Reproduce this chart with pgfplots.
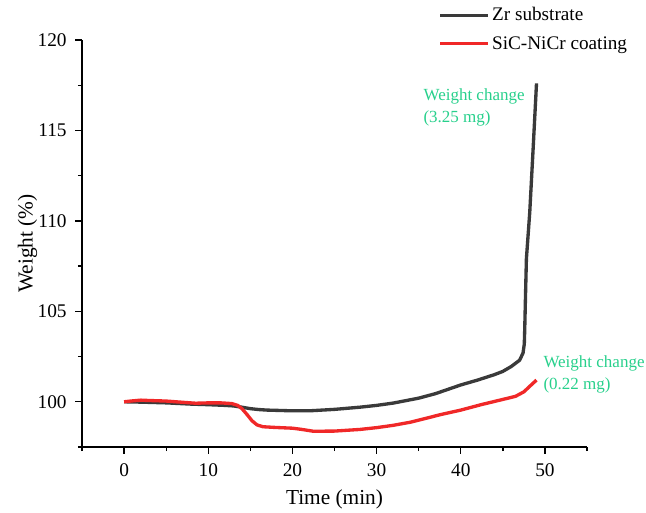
\documentclass[border=0pt]{standalone}
\usepackage{pgfplots}
\pgfplotsset{compat=1.18}
\usepackage{fontspec}
\setmainfont{Liberation Serif}
\definecolor{zrcol}{RGB}{58,58,58}
\definecolor{sicol}{RGB}{240,40,40}
\definecolor{anncol}{RGB}{40,208,140}
\begin{document}
\begin{tikzpicture}
\begin{axis}[
  scale only axis,
  width=378.75pt, height=305.25pt,
  xmin=-5, xmax=55, ymin=97.5, ymax=120,
  axis lines*=left,
  axis line style={line width=1pt,-},
  tick align=outside,
  major tick length=5pt, minor tick length=3pt,
  tick style={line width=1pt,black},
  xtick={0,10,20,30,40,50},
  minor xtick={-5,5,15,25,35,45,55},
  ytick={100,105,110,115,120},
  minor ytick={97.5,102.5,107.5,112.5,117.5},
  /pgf/number format/assume math mode=true,
  ticklabel style={font=\fontsize{14.5pt}{17pt}\selectfont},
  xticklabel style={yshift=-4pt},
  yticklabel style={xshift=-3pt},
  xlabel={Time (min)},
  ylabel={Weight (\%)},
  label style={font=\fontsize{16pt}{19pt}\selectfont},
  xlabel style={yshift=-2.5pt},
  ylabel style={yshift=-6.5pt},
  clip=false,
  legend cell align=left,
  legend image code/.code={\draw[#1] (0pt,0pt) -- (36pt,0pt);},
  legend style={draw=none, fill=none, at={(axis description cs:0.706,1.085)}, anchor=north west,
    font=\fontsize{14.4pt}{17pt}\selectfont, row sep=7pt, inner sep=0pt,
    nodes={inner sep=1.5pt}},
]
\addplot[color=zrcol, line width=2.5pt, line join=round] coordinates {
(0,100) (2,99.98) (5,99.94) (8,99.87) (10,99.84) (12,99.8) (13,99.77) (14,99.7)
(15,99.62) (16,99.57) (17,99.54) (20,99.5) (22,99.5) (25,99.58) (28,99.7) (30,99.8)
(32,99.93) (35,100.2) (37,100.45) (40,100.93) (42,101.2) (44,101.5) (45,101.68)
(46,101.95) (47,102.3) (47.4,102.7) (47.55,103.2) (47.6,104) (47.7,106) (47.8,107.9)
(48.2,110.5) (48.6,114) (49.0,117.6)
};
\addlegendentry{Zr substrate}
\addplot[color=sicol, line width=2.5pt, line join=round] coordinates {
(0,100) (1,100.05) (2,100.09) (3,100.07) (5,100.04) (7,99.97) (8.5,99.92) (10,99.94)
(11.5,99.94) (12.8,99.9) (13.5,99.8) (14,99.62) (14.6,99.3) (15.2,98.95) (15.8,98.72)
(16.5,98.62) (18,98.58) (20,98.54) (21,98.48) (22.5,98.37) (25,98.38) (28,98.47)
(30,98.57) (32,98.7) (34,98.87) (36,99.1) (37.5,99.28) (40,99.54) (42.5,99.85)
(45,100.13) (46.5,100.3) (47.5,100.55) (48.3,100.9) (49,101.2)
};
\addlegendentry{SiC-NiCr coating}
\node[anchor=west, align=left, inner sep=0pt, text=anncol,
  font=\fontsize{12.75pt}{16.5pt}\selectfont] at (axis cs:35.55,116.29) {Weight change\\(3.25 mg)};
\node[anchor=west, align=left, inner sep=0pt, text=anncol,
  font=\fontsize{12.75pt}{16.5pt}\selectfont] at (axis cs:49.8,101.52) {Weight change\\(0.22 mg)};
\coordinate (sw) at (rel axis cs:0,0);
\coordinate (ne) at (rel axis cs:1,1);
\end{axis}
\pgfresetboundingbox
\path[use as bounding box] ([xshift=-61.5pt,yshift=-48.75pt]sw) rectangle ([xshift=44.25pt,yshift=30pt]ne);
\end{tikzpicture}
\end{document}
